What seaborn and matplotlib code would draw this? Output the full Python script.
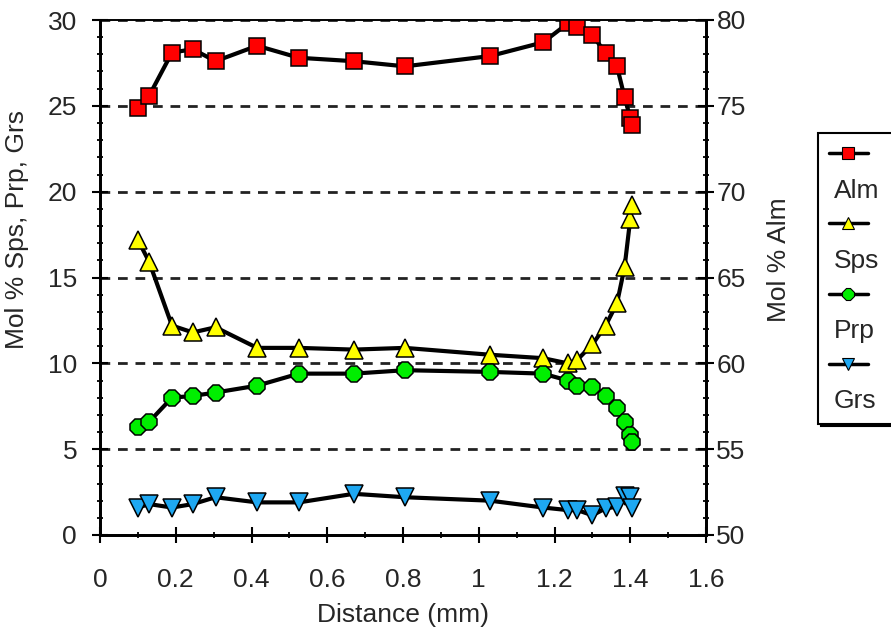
import seaborn as sns
import matplotlib.pyplot as plt
from matplotlib.lines import Line2D
from matplotlib.ticker import MultipleLocator

distance = [0.10, 0.13, 0.19, 0.245, 0.305, 0.415, 0.525, 0.67, 0.805, 1.03,
            1.17, 1.235, 1.26, 1.30, 1.335, 1.365, 1.385, 1.40, 1.405]
alm = [74.9, 75.6, 78.1, 78.3, 77.6, 78.5, 77.8, 77.6, 77.3, 77.9,
       78.7, 79.8, 79.6, 79.1, 78.1, 77.3, 75.5, 74.3, 73.9]
sps = [17.2, 15.9, 12.2, 11.8, 12.1, 10.9, 10.9, 10.8, 10.9, 10.5,
       10.3, 10.0, 10.2, 11.1, 12.2, 13.5, 15.6, 18.4, 19.2]
prp = [6.3, 6.6, 8.0, 8.1, 8.3, 8.7, 9.4, 9.4, 9.6, 9.5,
       9.4, 9.0, 8.7, 8.6, 8.1, 7.4, 6.6, 5.8, 5.4]
grs = [1.6, 1.8, 1.6, 1.8, 2.2, 1.9, 1.9, 2.4, 2.2, 2.0,
       1.6, 1.45, 1.45, 1.15, 1.55, 1.65, 2.3, 2.2, 1.6]

sns.set_style('white')
plt.rcParams['font.family'] = ['Liberation Sans', 'DejaVu Sans']
plt.rcParams['font.size'] = 19

fig = plt.figure(figsize=(8.91, 6.29), dpi=100)
ax = fig.add_axes([100 / 891, 94 / 629, 606 / 891, 515 / 629])
ax2 = ax.twinx()

line_kw = dict(color='black', linewidth=3, markeredgecolor='black',
               markeredgewidth=1.1, sort=False, estimator=None)
sns.lineplot(x=distance, y=sps, ax=ax, marker='^', markersize=13.5,
             markerfacecolor='#FFFF00', **line_kw)
sns.lineplot(x=distance, y=prp, ax=ax, marker='8', markersize=13,
             markerfacecolor='#00EE00', **line_kw)
sns.lineplot(x=distance, y=grs, ax=ax, marker='v', markersize=13.5,
             markerfacecolor='#1EA8F2', **line_kw)
sns.lineplot(x=distance, y=alm, ax=ax2, marker='s', markersize=11,
             markerfacecolor='#FF0000', **line_kw)

ax.set_xlim(0, 1.6)
ax.set_ylim(0, 30)
ax2.set_ylim(50, 80)
ax.xaxis.set_major_locator(MultipleLocator(0.2))
ax.xaxis.set_minor_locator(MultipleLocator(0.1))
ax.yaxis.set_major_locator(MultipleLocator(5))
ax.yaxis.set_minor_locator(MultipleLocator(1))
ax2.yaxis.set_major_locator(MultipleLocator(5))
ax2.yaxis.set_minor_locator(MultipleLocator(1))
ax.set_xticks([0, 0.2, 0.4, 0.6, 0.8, 1.0, 1.2, 1.4, 1.6])
ax.set_xticklabels(['0', '0.2', '0.4', '0.6', '0.8', '1', '1.2', '1.4', '1.6'])

ax.yaxis.grid(True, which='major', linestyle=(0, (3.5, 2.8)), color='#222222', linewidth=2)
ax.xaxis.grid(False)

for a in (ax, ax2):
    a.tick_params(which='major', direction='inout', length=11, width=1.5, color='black')
    a.tick_params(which='minor', direction='inout', length=5, width=1.3, color='black')
    for s in a.spines.values():
        s.set_color('black')
        s.set_linewidth(2)
    a.spines['top'].set_linewidth(1.2)
ax.tick_params(axis='y', which='both', left=True, pad=11)
ax.tick_params(axis='x', which='both', bottom=True, pad=18)
ax2.tick_params(axis='y', which='both', right=True, pad=2)

ax.set_xlabel('Distance (mm)', labelpad=8)
ax.set_ylabel('Mol % Sps, Prp, Grs')
ax2.set_ylabel('Mol % Alm')
ax.yaxis.set_label_coords(-0.117, 0.594)
ax2.yaxis.set_label_coords(1.10, 0.534)

# legend: marker line on one row, its name on the row below
def handle(marker, fc, ms):
    return Line2D([], [], color='black', linewidth=2.5, marker=marker, markersize=ms,
                  markerfacecolor=fc, markeredgecolor='black', markeredgewidth=0.8)

blank = Line2D([], [], linestyle='none')
handles = [handle('s', '#FF0000', 8), blank,
           handle('^', '#FFFF00', 9), blank,
           handle('8', '#00EE00', 9), blank,
           handle('v', '#1EA8F2', 9), blank]
labels = ['', 'Alm', '', 'Sps', '', 'Prp', '', 'Grs']
leg = fig.legend(handles, labels, loc='upper left',
                 bbox_to_anchor=(818 / 891, 1 - 133 / 629, 100 / 891, 0), mode='expand',
                 frameon=True, fancybox=False, framealpha=1, edgecolor='black',
                 shadow={'color': 'black', 'alpha': 1}, handlelength=1.5,
                 handletextpad=-1.3, labelspacing=0.42, borderpad=0.4, borderaxespad=0)
leg.get_frame().set_linewidth(1.5)

fig.savefig('out.png', dpi=100)
